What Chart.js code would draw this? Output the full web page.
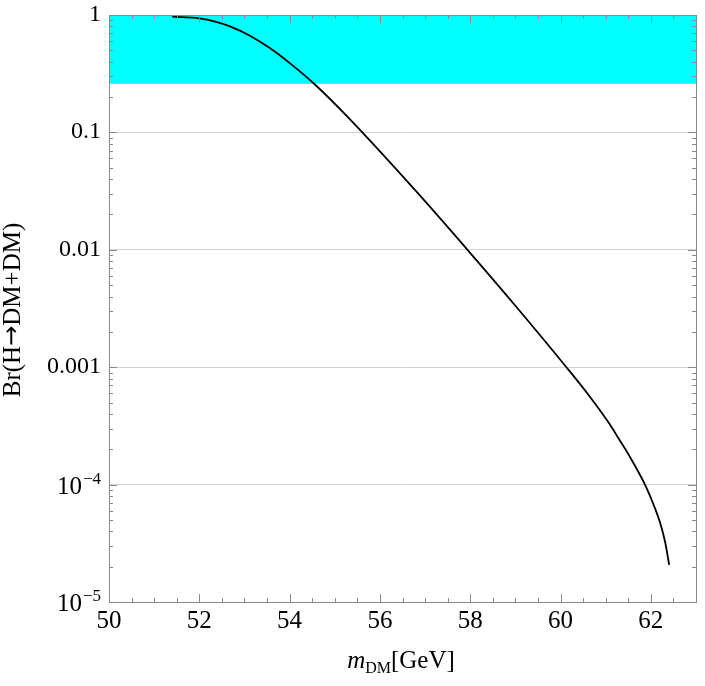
<!doctype html>
<html lang="en">
<head>
  <meta charset="utf-8">
  <title>Br(H→DM+DM)</title>
  <style>
    body { margin: 0; background: #fff; }
  </style>
</head>
<body>
  <canvas id="chart" width="705" height="686"></canvas>

  <script src="https://cdn.jsdelivr.net/npm/chart.js@4.4.0/dist/chart.umd.min.js"></script>
  <script>
  // curve
  const massGeV = [51.4, 52.0, 52.35, 52.68, 53.12, 53.56, 54.01, 54.56, 55.29, 56.8, 57.94, 59.0, 60.13, 60.65, 61.09, 61.3, 61.53, 61.87, 62.05, 62.2, 62.32, 62.405];
  const branching = [0.967, 0.937, 0.88, 0.80, 0.666, 0.523, 0.387, 0.256, 0.135, 0.0316, 0.01, 0.00334, 0.001, 0.00056, 0.000326, 0.000242, 0.000174, 0.0001, 0.000069, 0.000048, 0.000032, 0.0000207];

  // excluded band
  const bandX = [50, 63];
  const bandTop = 1;
  const bandBottom = 0.26;

  const xTicks = [50, 52, 54, 56, 58, 60, 62];
  const yDecades = [1, 0.1, 0.01, 0.001, 1e-4, 1e-5];
  const yLabels = ['1', '0.1', '0.01', '0.001', '10|−4', '10|−5'];

  const FONT = '"Liberation Serif", "DejaVu Serif", serif';

  const decorate = {
    id: 'decorate',
    afterDraw(chart) {
      const ctx = chart.ctx;
      const xs = chart.scales.x, ys = chart.scales.y;
      const a = chart.chartArea;
      ctx.save();

      // inward tick marks
      ctx.strokeStyle = '#888';
      ctx.lineWidth = 1;
      ctx.beginPath();
      for (let v = 50; v <= 63.001; v += 0.5) {
        const px = Math.round(xs.getPixelForValue(v)) + 0.5;
        const len = (Math.abs(v % 2) < 1e-6) ? 8 : 4;
        ctx.moveTo(px, a.bottom); ctx.lineTo(px, a.bottom - len);
        ctx.moveTo(px, a.top); ctx.lineTo(px, a.top + len);
      }
      for (let e = -5; e <= 0; e++) {
        for (let k = 1; k <= 9; k++) {
          const v = k * Math.pow(10, e);
          if (v > 1.0001) break;
          const py = Math.round(ys.getPixelForValue(v)) + 0.5;
          const len = k === 1 ? 8 : 4;
          ctx.moveTo(a.left, py); ctx.lineTo(a.left + len, py);
          ctx.moveTo(a.right, py); ctx.lineTo(a.right - len, py);
        }
      }
      ctx.stroke();

      // frame
      ctx.strokeRect(Math.round(a.left) + 0.5, Math.round(a.top) + 0.5,
                     Math.round(a.right - a.left), Math.round(a.bottom - a.top));

      // x tick labels
      ctx.fillStyle = '#000';
      ctx.font = '25px ' + FONT;
      ctx.textAlign = 'center';
      ctx.textBaseline = 'alphabetic';
      xTicks.forEach(v => {
        ctx.fillText(String(v), xs.getPixelForValue(v), 628);
      });

      // y tick labels
      yDecades.forEach((v, i) => {
        const py = ys.getPixelForValue(v);
        const lab = yLabels[i];
        if (lab.indexOf('|') < 0) {
          ctx.font = '24px ' + FONT;
          ctx.textAlign = 'right';
          ctx.fillText(lab, 101, py + 6);
        } else {
          const parts = lab.split('|');
          ctx.font = '17px ' + FONT;
          const supW = ctx.measureText(parts[1]).width;
          ctx.textAlign = 'left';
          ctx.fillText(parts[1], 101 - supW, py - 1);
          ctx.font = '25px ' + FONT;
          ctx.textAlign = 'right';
          ctx.fillText(parts[0], 101 - supW - 1, py + 9);
        }
      });

      // x title: m_DM[GeV]
      const mainF = '25px ' + FONT;
      const italF = 'italic 25px ' + FONT;
      const subF = '16px ' + FONT;
      ctx.font = italF; const w1 = ctx.measureText('m').width;
      ctx.font = subF; const w2 = ctx.measureText('DM').width;
      ctx.font = mainF; const w3 = ctx.measureText('[GeV]').width;
      let x0 = 401 - (w1 + w2 + w3) / 2;
      const base = 668;
      ctx.textAlign = 'left';
      ctx.font = italF; ctx.fillText('m', x0, base); x0 += w1;
      ctx.font = subF; ctx.fillText('DM', x0, base + 5); x0 += w2;
      ctx.font = mainF; ctx.fillText('[GeV]', x0, base);

      // y title, arrow drawn a bit wider like the original
      const pieces = [['Br(H', mainF], ['→', '24px "DejaVu Sans", sans-serif'], ['DM+DM)', mainF]];
      let total = 0;
      const widths = pieces.map(p => { ctx.font = p[1]; const w = ctx.measureText(p[0]).width; total += w; return w; });
      ctx.translate(20, 310);
      ctx.rotate(-Math.PI / 2);
      ctx.textAlign = 'left';
      let tx = -total / 2;
      pieces.forEach((p, i) => {
        ctx.font = p[1];
        ctx.fillText(p[0], tx, i === 1 ? -1 : 0);
        tx += widths[i];
      });

      ctx.restore();
    }
  };

  const ctx = document.getElementById('chart').getContext('2d');
  new Chart(ctx, {
    type: 'line',
    data: {
      datasets: [
        {
          data: massGeV.map((m, i) => ({ x: m, y: branching[i] })),
          borderColor: '#000',
          borderWidth: 1.8,
          pointRadius: 0,
          cubicInterpolationMode: 'monotone',
          fill: false,
          order: 0,
        },
        {
          data: bandX.map(x => ({ x: x, y: bandTop })),
          borderWidth: 0,
          borderColor: 'rgba(0,0,0,0)',
          backgroundColor: '#00ffff',
          pointRadius: 0,
          fill: { value: bandBottom },
          order: 1,
        },
      ],
    },
    options: {
      responsive: false,
      animation: false,
      layout: { padding: { left: 109, top: 15, right: 9, bottom: 84 } },
      plugins: {
        legend: { display: false },
        tooltip: { enabled: false },
      },
      scales: {
        x: {
          type: 'linear',
          min: 50,
          max: 63,
          ticks: { display: false, stepSize: 0.5 },
          grid: { display: false, drawTicks: false },
          border: { display: false },
        },
        y: {
          type: 'logarithmic',
          min: 1e-5,
          max: 1,
          ticks: { display: false },
          grid: {
            drawTicks: false,
            color: c => {
              const v = c.tick ? c.tick.value : 0;
              const l = Math.log10(v);
              return Math.abs(l - Math.round(l)) < 1e-6 ? '#d2d2d2' : 'rgba(0,0,0,0)';
            },
          },
          border: { display: false },
        },
      },
    },
    plugins: [decorate],
  });
  </script>
</body>
</html>
